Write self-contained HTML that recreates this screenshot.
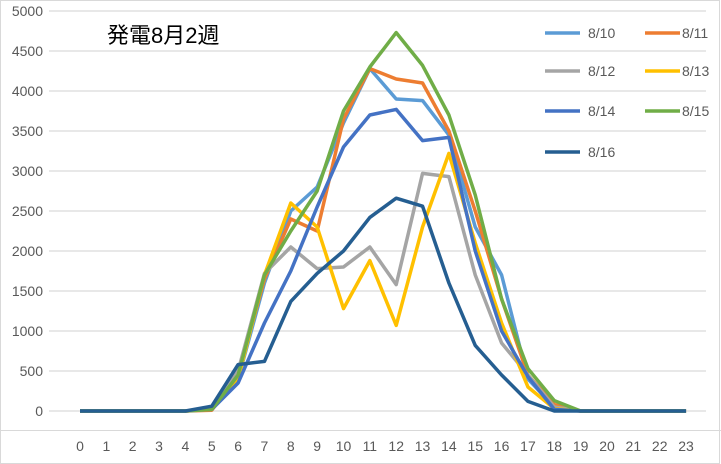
<!DOCTYPE html>
<html><head><meta charset="utf-8"><style>body{margin:0;background:#fff}svg{display:block}</style></head><body>
<svg width="721" height="464" xmlns="http://www.w3.org/2000/svg" font-family="Liberation Sans, Noto Sans CJK JP, sans-serif">
<rect x="0.5" y="0.5" width="719" height="463" fill="#fff" stroke="#d9d9d9"/>
<line x1="0" y1="430.5" x2="721" y2="430.5" stroke="#d9d9d9"/>
<g stroke="#d9d9d9" stroke-width="1.3">
<line x1="49" x2="706" y1="411" y2="411"/><line x1="49" x2="706" y1="371" y2="371"/><line x1="49" x2="706" y1="331" y2="331"/><line x1="49" x2="706" y1="291" y2="291"/><line x1="49" x2="706" y1="251" y2="251"/><line x1="49" x2="706" y1="211" y2="211"/><line x1="49" x2="706" y1="171" y2="171"/><line x1="49" x2="706" y1="131" y2="131"/><line x1="49" x2="706" y1="91" y2="91"/><line x1="49" x2="706" y1="51" y2="51"/><line x1="49" x2="706" y1="11" y2="11"/>
</g>
<g font-size="14" fill="#595959" text-anchor="end">
<text x="43" y="416">0</text><text x="43" y="376">500</text><text x="43" y="336">1000</text><text x="43" y="296">1500</text><text x="43" y="256">2000</text><text x="43" y="216">2500</text><text x="43" y="176">3000</text><text x="43" y="136">3500</text><text x="43" y="96">4000</text><text x="43" y="56">4500</text><text x="43" y="16">5000</text>
</g>
<g font-size="14" fill="#595959" text-anchor="middle" id="xl"></g>
<text x="107" y="43" font-size="22" fill="#000">発電8月2週</text>
<g id="lines" fill="none" stroke-width="3.5" stroke-linejoin="round"></g>
<g font-size="14" fill="#595959">
<line x1="545" x2="580" y1="33" y2="33" stroke="#5B9BD5" stroke-width="3.5"/><text x="588" y="38">8/10</text>
<line x1="645" x2="680" y1="33" y2="33" stroke="#ED7D31" stroke-width="3.5"/><text x="682" y="38">8/11</text>
<line x1="545" x2="580" y1="71" y2="71" stroke="#A5A5A5" stroke-width="3.5"/><text x="588" y="76">8/12</text>
<line x1="645" x2="680" y1="71" y2="71" stroke="#FFC000" stroke-width="3.5"/><text x="682" y="76">8/13</text>
<line x1="545" x2="580" y1="111" y2="111" stroke="#4472C4" stroke-width="3.5"/><text x="588" y="116">8/14</text>
<line x1="645" x2="680" y1="111" y2="111" stroke="#70AD47" stroke-width="3.5"/><text x="682" y="116">8/15</text>
<line x1="545" x2="580" y1="152" y2="152" stroke="#255E91" stroke-width="3.5"/><text x="588" y="157">8/16</text>
</g>
</svg>
<script>
const X=i=>80+i*26.35,Y=v=>411-v*0.08;
const xl=document.getElementById('xl');let s='';
for(let i=0;i<24;i++)s+=`<text x="${X(i)}" y="451">${i}</text>`;xl.innerHTML=s;
const z=n=>Array(n).fill(0);
const D=[
['#5B9BD5',[...z(5),20,400,1600,2500,2800,3600,4280,3900,3880,3450,2300,1700,400,50,...z(5)]],
['#ED7D31',[...z(5),10,450,1650,2400,2250,3650,4280,4150,4100,3500,2500,1400,450,80,...z(5)]],
['#A5A5A5',[...z(5),30,500,1720,2050,1780,1800,2050,1580,2970,2930,1700,850,450,50,...z(5)]],
['#FFC000',[...z(5),20,400,1700,2600,2300,1280,1880,1070,2300,3220,2100,1100,300,30,...z(5)]],
['#4472C4',[...z(5),20,350,1100,1750,2550,3300,3700,3770,3380,3420,2000,1000,430,20,...z(5)]],
['#70AD47',[...z(5),20,450,1700,2250,2750,3750,4300,4730,4320,3700,2700,1400,530,130,...z(5)]],
['#255E91',[...z(5),60,580,620,1370,1720,2000,2420,2660,2560,1600,820,450,120,0,...z(5)]]];
let h='';for(const [c,d] of D)h+=`<polyline stroke="${c}" points="${d.map((v,i)=>X(i)+','+Y(v)).join(' ')}"/>`;
document.getElementById('lines').innerHTML=h;
</script>
</body></html>
